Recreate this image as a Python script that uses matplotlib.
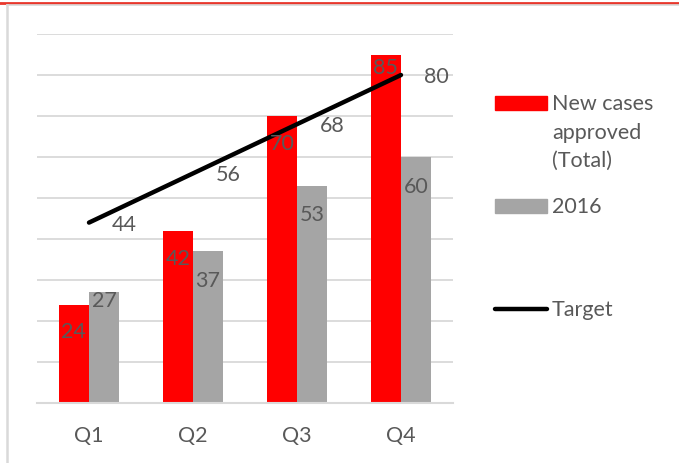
import matplotlib
matplotlib.use("Agg")
import matplotlib.pyplot as plt
import numpy as np
from matplotlib.lines import Line2D
from matplotlib.patches import Rectangle

categories = ["Q1", "Q2", "Q3", "Q4"]
new_cases = [24, 42, 70, 85]
cases_2016 = [27, 37, 53, 60]
target = [44, 56, 68, 80]

RED = "#ff0000"
GRAY = "#a5a5a5"
TEXT = "#595959"
GRID = "#d9d9d9"
FS = 15.5

plt.rcParams["font.family"] = ["Lato", "DejaVu Sans"]

fig = plt.figure(figsize=(6.79, 4.64), dpi=100)
ax = fig.add_axes([37 / 679, 60 / 464, 416 / 679, 369 / 464])

x = np.arange(len(categories))
w = 0.29
ax.bar(x - w / 2, new_cases, w, color=RED, zorder=2)
ax.bar(x + w / 2, cases_2016, w, color=GRAY, zorder=2)
ax.plot(x, target, color="black", lw=3.2, solid_capstyle="round", zorder=3)

ax.set_xlim(-0.5, 3.5)
ax.set_ylim(0, 90)
ax.set_yticks(np.arange(0, 91, 10))
ax.yaxis.grid(True, color=GRID, lw=1.3, zorder=0)
ax.tick_params(axis="y", left=False, labelleft=False)
ax.tick_params(axis="x", bottom=False, labelsize=FS, colors=TEXT, pad=12)
ax.set_xticks(x)
ax.set_xticklabels(categories)
for s in ["top", "right", "left"]:
    ax.spines[s].set_visible(False)
ax.spines["bottom"].set_color(GRID)
ax.spines["bottom"].set_linewidth(1.5)

# data labels (pixel offsets below the bar tops)
red_off = [-26, -27, -27, -13]
gray_off = [-8, -29, -28, -29]
for i in range(len(categories)):
    ax.annotate(str(new_cases[i]), (x[i] - w / 2, new_cases[i]), xytext=(0, red_off[i]),
                textcoords="offset pixels", ha="center", va="center", fontsize=FS, color=TEXT, zorder=4)
    ax.annotate(str(cases_2016[i]), (x[i] + w / 2, cases_2016[i]), xytext=(0, gray_off[i]),
                textcoords="offset pixels", ha="center", va="center", fontsize=FS, color=TEXT, zorder=4)
    ax.annotate(str(target[i]), (x[i], target[i]), xytext=(35, -1),
                textcoords="offset pixels", ha="center", va="center", fontsize=FS, color=TEXT, zorder=4)

# legend drawn in figure pixel coordinates
def fx(px):
    return px / 679

def fy(py):
    return 1 - py / 464

fig.patches.append(Rectangle((fx(495), fy(111)), 52 / 679, 14 / 464, color=RED, transform=fig.transFigure))
fig.patches.append(Rectangle((fx(495), fy(214)), 52 / 679, 14 / 464, color=GRAY, transform=fig.transFigure))
fig.lines.append(Line2D([fx(495), fx(547)], [fy(310), fy(310)], color="black", lw=3.2,
                        solid_capstyle="round", transform=fig.transFigure))
for txt, py in [("New cases", 104), ("approved", 133), ("(Total)", 161), ("2016", 207), ("Target", 310)]:
    fig.text(fx(552), fy(py), txt, ha="left", va="center", fontsize=FS, color=TEXT)

# outer frame
fig.lines.append(Line2D([0, 1], [fy(4), fy(4)], color="#e8372c", lw=2, transform=fig.transFigure))
fig.lines.append(Line2D([fx(7), 1], [fy(6), fy(6)], color="#d9d9d9", lw=1.2, transform=fig.transFigure))
fig.lines.append(Line2D([fx(7), fx(7)], [fy(6), 0], color="#d9d9d9", lw=1.8, transform=fig.transFigure))

fig.savefig("out.png", dpi=100)
